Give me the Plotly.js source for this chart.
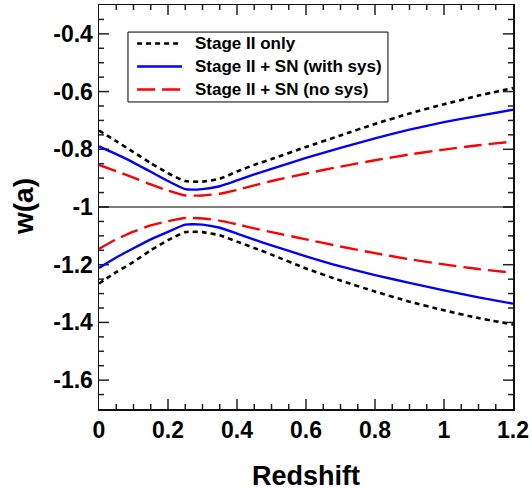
<!DOCTYPE html>
<html>
<head>
<meta charset="utf-8">
<script src="https://cdn.plot.ly/plotly-3.0.1.min.js"></script>
<style>html,body{margin:0;padding:0;background:#fff;}#chart{width:532px;height:488px;}</style>
</head>
<body>
<div id="chart"></div>
<script>
// Redshift sample points
var redshift = [0, 0.05, 0.1, 0.15, 0.2, 0.25, 0.3, 0.35, 0.4, 0.45, 0.5, 0.6, 0.7, 0.8, 0.9, 1.0, 1.1, 1.2];

// Stage II only (upper / lower bounds)
var stage2Upper = [-0.735, -0.772, -0.810, -0.848, -0.883, -0.910, -0.912, -0.902, -0.877, -0.854, -0.834, -0.792, -0.752, -0.712, -0.676, -0.644, -0.614, -0.588];
var stage2Lower = [-1.265, -1.226, -1.190, -1.150, -1.115, -1.087, -1.087, -1.098, -1.120, -1.142, -1.165, -1.213, -1.255, -1.293, -1.328, -1.358, -1.385, -1.407];

// Stage II + SN (with sys)
var withSysUpper = [-0.790, -0.817, -0.846, -0.878, -0.910, -0.938, -0.938, -0.928, -0.908, -0.887, -0.868, -0.830, -0.795, -0.762, -0.732, -0.706, -0.684, -0.663];
var withSysLower = [-1.211, -1.175, -1.143, -1.112, -1.086, -1.061, -1.061, -1.072, -1.092, -1.113, -1.133, -1.171, -1.206, -1.236, -1.263, -1.289, -1.313, -1.335];

// Stage II + SN (no sys)
var noSysUpper = [-0.854, -0.876, -0.898, -0.922, -0.943, -0.960, -0.960, -0.954, -0.941, -0.925, -0.910, -0.884, -0.860, -0.838, -0.818, -0.801, -0.786, -0.773];
var noSysLower = [-1.145, -1.112, -1.085, -1.064, -1.049, -1.038, -1.040, -1.047, -1.060, -1.074, -1.087, -1.112, -1.137, -1.160, -1.181, -1.199, -1.215, -1.228];

var seriesNames = ['Stage II only', 'Stage II + SN (with sys)', 'Stage II + SN (no sys)'];
var refW = [-1, -1];
var refZ = [0, 1.2];

var yTickVals = [-1.6, -1.4, -1.2, -1.0, -0.8, -0.6, -0.4];
var yTickText = ['-1.6', '-1.4', '-1.2', '-1', '-0.8', '-0.6', '-0.4'];
var xTickVals = [0, 0.2, 0.4, 0.6, 0.8, 1.0, 1.2];
var xTickText = ['0', '0.2', '0.4', '0.6', '0.8', '1', '1.2'];
var xRange = [0, 1.2];
var yRange = [-1.7, -0.3];
var minorStep = 0.05;

var FONT = 'Liberation Sans, Arial, Helvetica, sans-serif';
var W = 532, H = 488, M = {l: 99, r: 19, t: 5, b: 79};
var styles = [
  {color: '#000', width: 2.6, dash: '5px,4px'},
  {color: '#0000ff', width: 2.4, dash: 'solid'},
  {color: '#ff0000', width: 2.4, dash: '18px,7px'}
];
function lineOf(i) {
  return {color: styles[i].color, width: styles[i].width, dash: styles[i].dash, shape: 'spline', smoothing: 0.5};
}

// inside tick marks on all four sides, as one line trace with gaps
var plotW = W - M.l - M.r, plotH = H - M.t - M.b;
var xPerPx = (xRange[1] - xRange[0]) / plotW, yPerPx = (yRange[1] - yRange[0]) / plotH;
function isMajor(v, majors) { return majors.some(function (m) { return Math.abs(m - v) < 1e-6; }); }
var tx = [], ty = [];
function seg(x0, y0, x1, y1) { tx.push(x0, x1, null); ty.push(y0, y1, null); }
for (var k = 1; xRange[0] + k * minorStep < xRange[1] - 1e-6; k++) {
  var xv = +(xRange[0] + k * minorStep).toFixed(4);
  var dy = (isMajor(xv, xTickVals) ? 10 : 5) * yPerPx;
  seg(xv, yRange[0], xv, yRange[0] + dy);
  seg(xv, yRange[1], xv, yRange[1] - dy);
}
for (var j = 1; yRange[0] + j * minorStep < yRange[1] - 1e-6; j++) {
  var yv = +(yRange[0] + j * minorStep).toFixed(4);
  var dx = (isMajor(yv, yTickVals) ? 10 : 5) * xPerPx;
  seg(xRange[0], yv, xRange[0] + dx, yv);
  seg(xRange[1], yv, xRange[1] - dx, yv);
}

var traces = [
  {x: tx, y: ty, mode: 'lines', line: {color: '#222', width: 1.5}, connectgaps: false, hoverinfo: 'skip', cliponaxis: false},
  {x: refZ, y: refW, mode: 'lines', line: {color: '#000', width: 1.2}, hoverinfo: 'skip'},
  {x: redshift, y: stage2Upper, mode: 'lines', name: seriesNames[0], line: lineOf(0)},
  {x: redshift, y: withSysUpper, mode: 'lines', name: seriesNames[1], line: lineOf(1)},
  {x: redshift, y: noSysUpper, mode: 'lines', name: seriesNames[2], line: lineOf(2)},
  {x: redshift, y: stage2Lower, mode: 'lines', name: seriesNames[0], line: lineOf(0)},
  {x: redshift, y: withSysLower, mode: 'lines', name: seriesNames[1], line: lineOf(1)},
  {x: redshift, y: noSysLower, mode: 'lines', name: seriesNames[2], line: lineOf(2)}
];

var tickFont = {family: FONT, size: 23, weight: 'bold', color: '#000'};
var axisCommon = {
  showgrid: false, zeroline: false, showline: true, linecolor: '#111', linewidth: 1.5,
  mirror: true, ticks: '', tickfont: tickFont
};

var shapes = [];
// hand-placed legend (paper coordinates of the plot area)
var L = {x0: 0.070, x1: 0.698, y0: 0.760, y1: 0.933, rows: [0.9047, 0.8478, 0.7908], s0: 0.092, s1: 0.2005, tx: 0.226};
shapes.push({type: 'rect', xref: 'paper', yref: 'paper', x0: L.x0, x1: L.x1, y0: L.y0, y1: L.y1,
  line: {color: '#000', width: 1}, fillcolor: '#fff', layer: 'above'});
var annotations = [];
seriesNames.forEach(function (n, i) {
  shapes.push({type: 'line', xref: 'paper', yref: 'paper', x0: L.s0, x1: L.s1, y0: L.rows[i], y1: L.rows[i],
    line: {color: styles[i].color, width: styles[i].width, dash: styles[i].dash}, layer: 'above'});
  annotations.push({xref: 'paper', yref: 'paper', x: L.tx, y: L.rows[i], xanchor: 'left', yanchor: 'middle',
    text: n, showarrow: false, font: {family: FONT, size: 17, weight: 'bold', color: '#000'}});
});
// axis titles
annotations.push({xref: 'paper', yref: 'paper', x: 0.5, y: 0, yshift: -50, xanchor: 'center', yanchor: 'top',
  text: 'Redshift', showarrow: false, font: {family: FONT, size: 27, weight: 'bold', color: '#000'}});
annotations.push({xref: 'paper', yref: 'paper', x: 0, y: 0.5, xshift: -76, xanchor: 'center', yanchor: 'middle',
  textangle: -90, text: 'w(a)', showarrow: false, font: {family: FONT, size: 28, weight: 'bold', color: '#000'}});

var layout = {
  width: W, height: H,
  margin: M,
  paper_bgcolor: '#fff', plot_bgcolor: '#fff',
  showlegend: false,
  font: {family: FONT, color: '#000'},
  xaxis: Object.assign({}, axisCommon, {
    range: xRange, tickmode: 'array', tickvals: xTickVals, ticktext: xTickText
  }),
  yaxis: Object.assign({}, axisCommon, {
    range: yRange, tickmode: 'array', tickvals: yTickVals, ticktext: yTickText
  }),
  shapes: shapes,
  annotations: annotations
};

Plotly.newPlot('chart', traces, layout, {displayModeBar: false, staticPlot: true});
</script>
</body>
</html>
